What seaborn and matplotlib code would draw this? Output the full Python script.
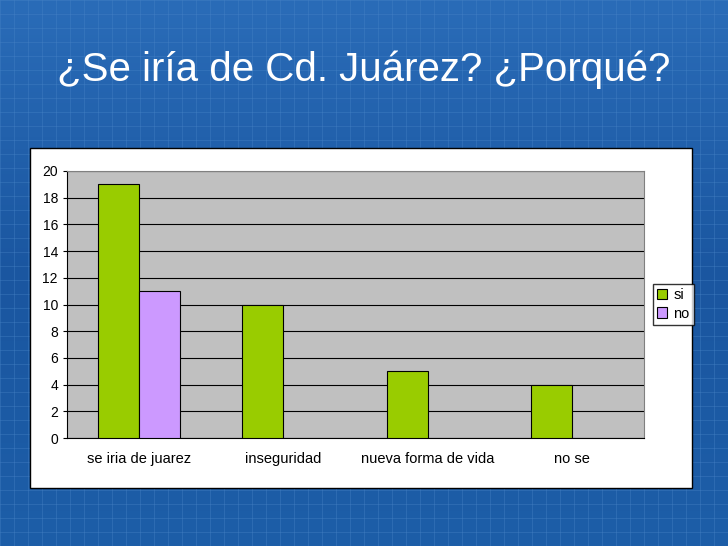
import matplotlib
matplotlib.use("Agg")
import matplotlib.pyplot as plt
import seaborn as sns
import pandas as pd
import numpy as np
from matplotlib.patches import Rectangle

categories = ["se iria de juarez", "inseguridad", "nueva forma de vida", "no se"]
si_values = [19, 10, 5, 4]
no_values = [11, None, None, None]
yticks = list(range(0, 21, 2))
title = "¿Se iría de Cd. Juárez? ¿Porqué?"

rows = []
for c, s, n in zip(categories, si_values, no_values):
    rows.append({"cat": c, "serie": "si", "val": s})
    if n is not None:
        rows.append({"cat": c, "serie": "no", "val": n})
df = pd.DataFrame(rows)

plt.rcParams["font.family"] = "Liberation Sans"
W, H = 728, 546
fig = plt.figure(figsize=(W/100, H/100), dpi=100)
fig.patch.set_facecolor("#1c5ea8")

bg = fig.add_axes([0, 0, 1, 1])
bg.set_xlim(0, W); bg.set_ylim(H, 0); bg.axis("off")
grad = np.linspace(0, 1, 256).reshape(-1, 1)
bg.imshow(grad, extent=[0, W, H, 0], aspect="auto", zorder=0,
          cmap=matplotlib.colors.LinearSegmentedColormap.from_list("b", ["#2a6cb8", "#1a56a0", "#1d5ea8"]))
for x in range(0, W, 14):
    bg.axvline(x, color="#4a86c8", lw=0.5, alpha=0.5, zorder=1)
for y in range(0, H, 14):
    bg.axhline(y, color="#4a86c8", lw=0.5, alpha=0.5, zorder=1)
bg.add_patch(Rectangle((30, 148), 662, 340, facecolor="white", edgecolor="black", lw=1, zorder=5))
bg.text(364, 70, title, color="white", fontsize=29, ha="center", va="center", zorder=6)

ax = fig.add_axes([67/W, 1-438/H, (644-67)/W, (438-171)/H])
ax.set_facecolor("#c0c0c0")
sns.barplot(data=df, x="cat", y="val", hue="serie", order=categories,
            hue_order=["si", "no"], palette={"si": "#99cc00", "no": "#cc99ff"},
            saturation=1, width=0.57, edgecolor="black", linewidth=0.8, ax=ax, zorder=3)
ax.set_ylim(0, 20)
ax.set_yticks(yticks)
ax.yaxis.grid(True, color="black", lw=0.8, zorder=0)
ax.set_axisbelow(True)
ax.set_xlabel(""); ax.set_ylabel("")
ax.tick_params(labelsize=10, length=3)
ax.tick_params(axis="x", length=0, pad=10, labelsize=10.5)
for s in ax.spines.values():
    s.set_color("#808080")
ax.spines["left"].set_color("black")
ax.spines["bottom"].set_color("black")
ax.legend(loc="center left", bbox_to_anchor=(1.01, 0.5), frameon=True, fancybox=False,
          edgecolor="black", fontsize=10.5, handlelength=0.7, handletextpad=0.4,
          borderpad=0.3, labelspacing=0.3, borderaxespad=0.2)

fig.savefig("out.png", dpi=100)
